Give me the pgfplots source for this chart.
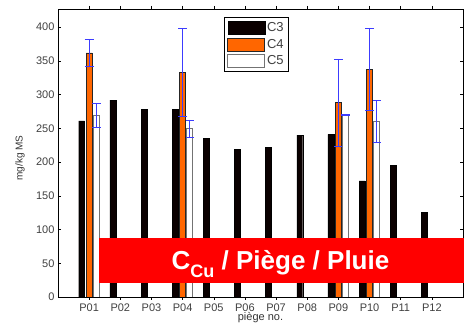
\documentclass[border=0pt]{standalone}
\usepackage{fontspec}
\setmainfont{Liberation Sans}
\usepackage{pgfplots}
\pgfplotsset{compat=1.18}
\usetikzlibrary{calc}
\definecolor{cthree}{RGB}{10,0,0}
\definecolor{cfour}{RGB}{255,102,0}
\definecolor{errblue}{RGB}{60,60,255}
\definecolor{banner}{RGB}{255,0,0}
\begin{document}
\begin{tikzpicture}
\begin{axis}[
  name=ax,
  width=405pt, height=288pt, scale only axis,
  xmin=0, xmax=13, ymin=0, ymax=427,
  xtick={1,...,12},
  xticklabels={P01,P02,P03,P04,P05,P06,P07,P08,P09,P10,P11,P12},
  ytick={0,50,...,400},
  tick align=inside, major tick length=3pt,
  tick style={black, line width=0.5pt},
  ticklabel style={font=\fontsize{11}{11}\selectfont, text=black!75},
  /pgf/number format/assume math mode=true,
  xlabel={piège no.},
  xlabel style={font=\fontsize{11}{11}\selectfont, text=black!80, at={(axis description cs:0.5,0)}, anchor=base, yshift=-24pt},
  ylabel={mg/kg MS},
  ylabel style={font=\fontsize{10}{10}\selectfont, text=black!80, at={(axis description cs:-0.094,0.483)}, anchor=center, rotate=0},
  ybar,
  legend image code/.code={\draw[#1] (0pt,-6.5pt) rectangle (37pt,6.5pt);},
  legend style={at={(rel axis cs:0.41,0.971)}, anchor=north west, draw=black, line width=0.6pt,
    font=\fontsize{13}{13}\selectfont, text=black!75, row sep=2pt, inner xsep=3pt, inner ysep=3pt,
    /tikz/every even column/.append style={column sep=2pt}},
  legend cell align=left,
]
\addplot[fill=cthree, draw=black, bar width=0.19, bar shift=-0.24, line width=0.4pt]
  coordinates {(1,261)(2,292)(3,278)(4,278)(5,235)(6,219)(7,222)(8,240)(9,241)(10,172)(11,195)(12,125)};
\addplot[fill=cfour, draw=black!85, bar width=0.19, bar shift=0, line width=0.6pt,
  error bars/.cd, y dir=both, y explicit,
  error bar style={errblue, line width=0.6pt},
  error mark options={rotate=90, mark size=4.5pt, errblue, line width=0.6pt}]
  coordinates {(1,362) +- (0,19.5) (4,333) +- (0,65) (9,288) +- (0,65) (10,338) +- (0,61)};
\addplot[fill=white, draw=black!55, bar width=0.19, bar shift=0.23, line width=0.7pt,
  error bars/.cd, y dir=both, y explicit,
  error bar style={errblue, line width=0.6pt},
  error mark options={rotate=90, mark size=4.2pt, errblue, line width=0.6pt}]
  coordinates {(1,269) +- (0,18) (4,250) +- (0,12.5) (9,270) +- (0,0.5) (10,261) +- (0,31)};
\legend{C3,C4,C5}
\end{axis}
\fill[banner] ($(ax.south west)+(41pt,14pt)$) rectangle ($(ax.south east)+(1pt,59pt)$);
\node[text=white, anchor=base, font=\bfseries\fontsize{26}{26}\selectfont] at ($(ax.south west)+(222.5pt,27pt)$)
  {C\raisebox{-8pt}{\fontsize{18}{18}\selectfont Cu} / Piège / Pluie};
\pgfresetboundingbox
\path ($(ax.south west)+(-58pt,-28pt)$) rectangle ($(ax.north east)+(1pt,9pt)$);
\end{tikzpicture}
\end{document}
